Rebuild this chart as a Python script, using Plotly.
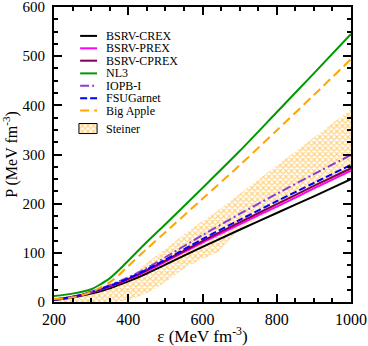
import plotly.graph_objects as go

# energy density grid (MeV fm^-3)
eps = [200, 250, 300, 325, 350, 375, 400, 450, 500, 600, 700, 800, 900, 1000]

crex = [4, 9, 17, 22, 28, 35, 42, 58, 76, 112, 147, 181, 215, 250]
prex = [5, 10, 19, 25, 31, 38, 46, 63, 82, 121, 158, 194, 231, 267]
cprex = [5, 10, 20, 26, 32, 39, 47, 65, 84, 124, 162, 199, 236, 272]
fsugarnet = [5, 10, 20, 26, 33, 40, 48, 66, 86, 128, 167, 205, 242, 279]
iopb = [5, 11, 21, 27, 34, 42, 50, 69, 91, 136, 179, 220, 260, 299]
nl3 = [12, 17, 26, 36, 48, 65, 84, 122, 158, 232, 307, 386, 465, 545]
bigapple = [6, 9, 20, 29, 40, 55, 73, 108, 142, 210, 278, 349, 421, 494]

# Steiner band
st_eps = [215, 250, 300, 350, 400, 450, 500, 550, 600, 640, 700, 800, 900, 1000]
st_low = [0, 0, 0, 0, 3, 18, 40, 68, 88, 100, 150, 190, 228, 264]
st_up = [5, 8, 15, 27, 47, 80, 108, 138, 165, 185, 220, 277, 334, 392]

names = ["BSRV-CREX", "BSRV-PREX", "BSRV-CPREX", "NL3", "IOPB-I", "FSUGarnet", "Big Apple"]
series = [crex, prex, cprex, nl3, iopb, fsugarnet, bigapple]
colors = ["black", "#ff00ff", "#800050", "#009900", "#8a3fd0", "#0000ff", "#ffa500"]
dashes = ["solid", "solid", "solid", "solid", "9px,3px,2px,3px", "7px,3px", "9px,5px"]

font = "Liberation Serif, Times New Roman, serif"
pattern = dict(shape="x", fgcolor="#ffa500", bgcolor="white", size=4, solidity=0.5)

fig = go.Figure()

fig.add_trace(go.Scatter(
    x=st_eps + st_eps[::-1], y=st_up + st_low[::-1],
    fill="toself", mode="lines", line=dict(width=0, color="orange"),
    fillcolor="white", fillpattern=pattern, name="Steiner"))

for name, yv, col, dash in zip(names, series, colors, dashes):
    fig.add_trace(go.Scatter(x=eps, y=yv, mode="lines", name=name,
                             line=dict(color=col, width=2, dash=dash, shape="spline", smoothing=0.8)))

# hand-made legend (compact like the original)
row_y = [0.902, 0.860, 0.818, 0.775, 0.733, 0.691, 0.649]
for name, col, dash, yy in zip(names, colors, dashes, row_y):
    fig.add_shape(type="line", xref="paper", yref="paper", x0=0.088, x1=0.145, y0=yy, y1=yy,
                  line=dict(color=col, width=2, dash=dash))
    fig.add_annotation(x=0.172, y=yy, xref="paper", yref="paper", text=name, showarrow=False,
                       xanchor="left", yanchor="middle", borderpad=0,
                       font=dict(family=font, size=12, color="black"))

fig.add_trace(go.Scatter(
    x=[0.084, 0.145, 0.145, 0.084, 0.084], y=[0.571, 0.571, 0.605, 0.605, 0.571],
    xaxis="x2", yaxis="y2", fill="toself", mode="lines",
    line=dict(color="black", width=1), fillcolor="white", fillpattern=pattern,
    hoverinfo="skip"))
fig.add_annotation(x=0.172, y=0.588, xref="paper", yref="paper", text="Steiner", showarrow=False,
                   xanchor="left", yanchor="middle", borderpad=0,
                   font=dict(family=font, size=12, color="black"))

axis = dict(showline=True, linewidth=2, linecolor="black", mirror="ticks",
            ticks="inside", ticklen=8, tickwidth=2, tickcolor="black",
            showgrid=False, zeroline=False, automargin=False, ticklabeloverflow="allow")

fig.update_layout(
    xaxis=dict(range=[200, 1000], dtick=200, **axis,
               tickfont=dict(family=font, size=16, color="black"), ticklabelstandoff=2,
               minor=dict(dtick=50, ticks="inside", ticklen=4, tickwidth=1.5, tickcolor="black"),
               title=dict(text="ε (MeV fm<sup>-3</sup>)", font=dict(family=font, size=17, color="black"), standoff=6)),
    yaxis=dict(range=[0, 600], dtick=100, **axis,
               tickfont=dict(family=font, size=15, color="black"), ticklabelstandoff=4,
               minor=dict(dtick=25, ticks="inside", ticklen=4, tickwidth=1.5, tickcolor="black"),
               title=dict(text="P (MeV fm<sup>-3</sup>)", font=dict(family=font, size=16, color="black"), standoff=6)),
    xaxis2=dict(range=[0, 1], visible=False, overlaying="x", anchor="y2"),
    yaxis2=dict(range=[0, 1], visible=False, overlaying="y", anchor="x2"),
    width=368, height=346,
    margin=dict(l=54, r=17, t=7, b=44),
    plot_bgcolor="white", paper_bgcolor="white",
    showlegend=False,
)

fig.write_html("out.html", config={"displayModeBar": False},
               post_script="document.body.style.margin='0';")
